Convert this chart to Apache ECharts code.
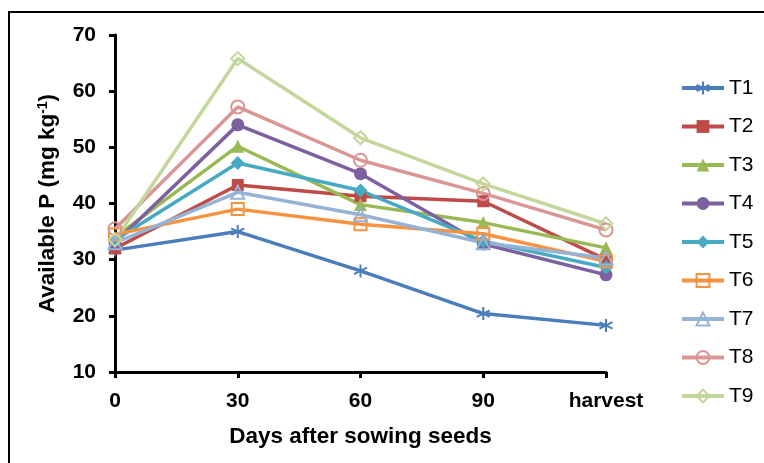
<!DOCTYPE html>
<html><head><meta charset="utf-8">
<script src="https://cdn.jsdelivr.net/npm/echarts@6/dist/echarts.min.js"></script>
<style>html,body{margin:0;padding:0;background:#fff}#c{width:764px;height:463px}</style>
</head><body><div id="c"></div>
<script>
const categories = ['0', '30', '60', '90', 'harvest'];
const yTicks = [10, 20, 30, 40, 50, 60, 70];
const seriesNames = ['T1','T2','T3','T4','T5','T6','T7','T8','T9'];
const T1 = [31.7, 35.0, 28.0, 20.4, 18.3];
const T2 = [32.0, 43.3, 41.3, 40.4, 30.0];
const T3 = [34.0, 50.2, 39.8, 36.6, 32.1];
const T4 = [33.0, 54.0, 45.3, 32.8, 27.3];
const T5 = [33.5, 47.2, 42.3, 33.3, 28.6];
const T6 = [34.5, 39.0, 36.3, 34.6, 29.7];
const T7 = [33.0, 42.0, 38.0, 33.0, 30.3];
const T8 = [35.5, 57.2, 47.7, 41.8, 35.3];
const T9 = [33.5, 65.8, 51.7, 43.5, 36.4];
const values = [T1,T2,T3,T4,T5,T6,T7,T8,T9];
const colors = ['#4A7EBB','#BE4B48','#98B954','#7D60A0','#46AAC5','#F69240','#95B3D7','#D99694','#C3D69B'];
const symbols = [
  'path://M5,0L5,10M0.67,2.5L9.33,7.5M0.67,7.5L9.33,2.5',
  'rect','triangle','circle','diamond','rect','triangle','circle','diamond'];
const filled = [false,true,true,true,true,false,false,false,false];
const sizes = [13,12,13,13,14,12,13,13,13];
const FONT = 'Arial, "Liberation Sans", sans-serif';

const series = seriesNames.map((n,i)=>({
  name:n, type:'line', data:values[i],
  symbol:symbols[i], symbolSize:sizes[i],
  lineStyle:{color:colors[i], width:3.5},
  itemStyle: i===0 ? {color:colors[i], borderColor:colors[i], borderWidth:2}
    : filled[i] ? {color:colors[i], borderColor:colors[i], borderWidth:0}
    : {color:'rgba(0,0,0,0)', borderColor:colors[i], borderWidth:2},
  emphasis:{disabled:true}, animation:false
}));

const chart = echarts.init(document.getElementById('c'));
chart.setOption({
  animation:false,
  textStyle:{fontFamily:FONT},
  graphic:[{type:'rect', shape:{x:9,y:12,width:800,height:500}, style:{fill:'none', stroke:'#000', lineWidth:2}, z:-1}],
  grid:{left:115, right:158, top:35, bottom:91, containLabel:false},
  legend:{
    orient:'vertical', left:680, top:77.5, padding:0,
    itemWidth:42, itemHeight:16, itemGap:17.5,
    lineStyle:{width:4},
    textStyle:{fontSize:21, color:'#000', fontFamily:FONT},
    data:seriesNames
  },
  xAxis:{
    type:'category', data:categories, boundaryGap:false,
    axisLine:{lineStyle:{color:'#000', width:3}},
    axisTick:{alignWithLabel:true, length:6, lineStyle:{width:3}},
    axisLabel:{color:'#000', fontSize:21, fontWeight:'bold', margin:19, fontFamily:FONT},
    name:'Days after sowing seeds', nameLocation:'middle', nameGap:53,
    nameTextStyle:{color:'#000', fontSize:22.5, fontWeight:'bold', fontFamily:FONT}
  },
  yAxis:{
    type:'value', min:yTicks[0], max:yTicks[yTicks.length-1], interval:10,
    splitLine:{show:false},
    axisLine:{show:true, lineStyle:{color:'#000', width:3}},
    axisTick:{show:true, length:6, lineStyle:{width:3}},
    axisLabel:{color:'#000', fontSize:21, fontWeight:'bold', margin:19, fontFamily:FONT},
    name:'Available P (mg kg{sup|-1})', nameLocation:'middle', nameGap:55,
    nameTextStyle:{color:'#000', fontSize:22.5, fontWeight:'bold', fontFamily:FONT,
      rich:{sup:{fontSize:14, fontWeight:'bold', verticalAlign:'top', padding:[0,0,10,0], fontFamily:FONT}}}
  },
  series:series
});
</script></body></html>
